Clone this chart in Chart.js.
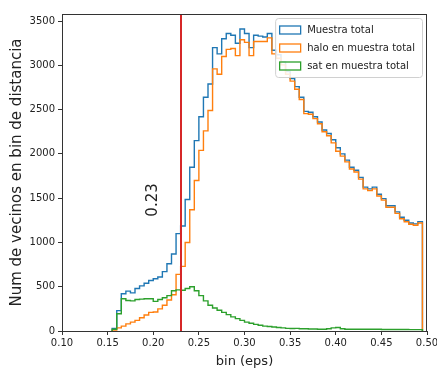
<!DOCTYPE html>
<html>
<head>
<meta charset="utf-8">
<script src="https://cdn.jsdelivr.net/npm/chart.js@4.4.1/dist/chart.umd.min.js"></script>
<style>
  html, body { margin: 0; padding: 0; background: #fff; }
  #wrap { width: 437px; height: 369px; }
</style>
</head>
<body>
<div id="wrap"><canvas id="histChart" width="437" height="369"></canvas></div>
<script>
// histogram bins: left edge of the first bin and common width
const binStart = 0.155;
const binWidth = 0.005;

// counts per bin (0.155, 0.160, ... 0.490)
const muestraTotal = [
  30, 230, 420, 450, 430, 480, 510, 540, 570, 590,
  610, 670, 760, 870, 1100, 1185, 1485, 1850, 2150, 2420,
  2640, 2790, 3200, 3130, 3300, 3360, 3340, 3250, 3410, 3360,
  3200, 3340, 3330, 3320, 3360, 3170, 3120, 3040, 2930, 2850,
  2760, 2640, 2480, 2470, 2420, 2360, 2270, 2230, 2160, 2070,
  2000, 1930, 1850, 1815, 1735, 1625, 1605, 1625, 1545, 1495,
  1415, 1415, 1345, 1285, 1250, 1220, 1210, 1235
];
const haloTotal = [
  10, 35, 55, 80, 100, 120, 150, 180, 210, 215,
  250, 290, 350, 410, 640, 730, 1000, 1370, 1700, 2040,
  2260, 2490, 2960, 2900, 3100, 3180, 3190, 3110, 3290, 3260,
  3110, 3270, 3270, 3270, 3310, 3130, 3080, 3005, 2900, 2822,
  2730, 2615, 2455, 2448, 2398, 2340, 2250, 2205, 2125, 2030,
  1975, 1910, 1830, 1795, 1715, 1605, 1585, 1605, 1525, 1478,
  1398, 1398, 1328, 1268, 1233, 1205, 1195, 1220
];
const satTotal = [
  20, 195, 365, 345, 340, 355, 360, 365, 365, 335,
  355, 375, 400, 455, 465, 460, 480, 500, 455, 400,
  340, 290, 260, 235, 210, 185, 160, 140, 120, 100,
  88, 75, 65, 55, 50, 45, 40, 35, 30, 28,
  30, 25, 25, 22, 22, 20, 20, 25, 35, 40,
  25, 20, 20, 20, 20, 20, 20, 20, 20, 17,
  17, 17, 17, 17, 17, 15, 15, 15
];

const seriesLabels = ['Muestra total', 'halo en muestra total', 'sat en muestra total'];
const seriesColors = ['#1f77b4', '#ff7f0e', '#2ca02c'];

const xTickValues = [0.10, 0.15, 0.20, 0.25, 0.30, 0.35, 0.40, 0.45, 0.50];
const yTickValues = [0, 500, 1000, 1500, 2000, 2500, 3000, 3500];

// eps cut and where its note sits (data units)
const epsCut = 0.23;
const epsCutText = '0.23';
const epsNoteAt = { x: 0.20, y: 1480 };

const FONT = "'DejaVu Sans', sans-serif";
const TEXT = '#222';

// outline of a step histogram: up from zero at the first edge, down at the last
function stepPoints(counts) {
  const pts = [{ x: binStart, y: 0 }];
  counts.forEach((c, i) => pts.push({ x: binStart + i * binWidth, y: c }));
  pts.push({ x: binStart + counts.length * binWidth, y: 0 });
  return pts;
}

const overlay = {
  id: 'overlay',
  afterDatasetsDraw(chart) {
    const { ctx, chartArea: ca, scales } = chart;
    const xs = scales.x, ys = scales.y;
    ctx.save();

    // vertical cut line
    const cx = Math.round(xs.getPixelForValue(epsCut));
    ctx.strokeStyle = '#d62728';
    ctx.lineWidth = 2;
    ctx.beginPath();
    ctx.moveTo(cx, ca.top);
    ctx.lineTo(cx, ca.bottom);
    ctx.stroke();

    // rotated note
    ctx.save();
    ctx.translate(xs.getPixelForValue(epsNoteAt.x), ys.getPixelForValue(epsNoteAt.y));
    ctx.rotate(-Math.PI / 2);
    ctx.fillStyle = TEXT;
    ctx.font = '15px ' + FONT;
    ctx.textAlign = 'center';
    ctx.textBaseline = 'middle';
    ctx.fillText(epsCutText, 0, 0);
    ctx.restore();

    // axes frame
    ctx.strokeStyle = '#333';
    ctx.lineWidth = 1;
    ctx.strokeRect(Math.round(ca.left) + 0.5, Math.round(ca.top) + 0.5,
      Math.round(ca.right - ca.left) - 1, Math.round(ca.bottom - ca.top));

    // legend, upper right
    ctx.font = '10px ' + FONT;
    const textW = Math.max(...seriesLabels.map(s => ctx.measureText(s).width));
    const rowH = 18;
    const boxW = 4 + 21 + 7 + textW + 7;
    const boxH = rowH * seriesLabels.length + 5;
    const bx = ca.right - 5 - boxW;
    const by = ca.top + 4;
    ctx.fillStyle = 'rgba(255,255,255,0.85)';
    ctx.strokeStyle = '#d0d0d0';
    ctx.beginPath();
    ctx.roundRect(bx + 0.5, by + 0.5, boxW, boxH, 3);
    ctx.fill();
    ctx.stroke();
    seriesLabels.forEach((label, i) => {
      const cy = by + 12 + i * rowH;
      ctx.strokeStyle = seriesColors[i];
      ctx.lineWidth = 1.3;
      ctx.strokeRect(bx + 4.5, cy - 4, 21, 8);
      ctx.fillStyle = TEXT;
      ctx.textAlign = 'left';
      ctx.textBaseline = 'middle';
      ctx.fillText(label, bx + 32, cy + 0.5);
    });

    ctx.restore();
  }
};

const series = [muestraTotal, haloTotal, satTotal];

new Chart(document.getElementById('histChart'), {
  type: 'line',
  data: {
    datasets: series.map((counts, i) => ({
      label: seriesLabels[i],
      data: stepPoints(counts),
      borderColor: seriesColors[i],
      borderWidth: 1.4,
      pointRadius: 0,
      stepped: true,
      fill: false,
      order: 3 - i
    }))
  },
  options: {
    responsive: false,
    animation: false,
    devicePixelRatio: 1,
    layout: { padding: { top: 14, right: 10, left: 0, bottom: 0 } },
    plugins: {
      legend: { display: false },
      tooltip: { enabled: false }
    },
    scales: {
      x: {
        type: 'linear',
        min: 0.10,
        max: 0.50,
        afterBuildTicks: s => { s.ticks = xTickValues.map(v => ({ value: v })); },
        afterFit: s => { s.height = 38; s.paddingLeft = 0; s.paddingRight = 0; },
        ticks: {
          color: TEXT,
          font: { family: FONT, size: 10 },
          padding: 2,
          maxRotation: 0,
          callback: v => v.toFixed(2)
        },
        grid: { drawOnChartArea: false, drawTicks: true, tickLength: 4, color: '#333' },
        border: { display: false },
        title: {
          display: true,
          text: 'bin (eps)',
          color: TEXT,
          font: { family: FONT, size: 13 },
          padding: { top: 0, bottom: 0 }
        }
      },
      y: {
        min: 0,
        max: 3580,
        afterBuildTicks: s => { s.ticks = yTickValues.map(v => ({ value: v })); },
        afterFit: s => { s.width = 62; },
        ticks: {
          color: TEXT,
          font: { family: FONT, size: 10 },
          padding: 3,
          callback: v => String(v)
        },
        grid: { drawOnChartArea: false, drawTicks: true, tickLength: 4, color: '#333' },
        border: { display: false },
        title: {
          display: true,
          text: 'Num de vecinos en bin de distancia',
          color: TEXT,
          font: { family: FONT, size: 15 },
          padding: { top: 8, bottom: 0 }
        }
      }
    }
  },
  plugins: [overlay]
});
</script>
</body>
</html>
